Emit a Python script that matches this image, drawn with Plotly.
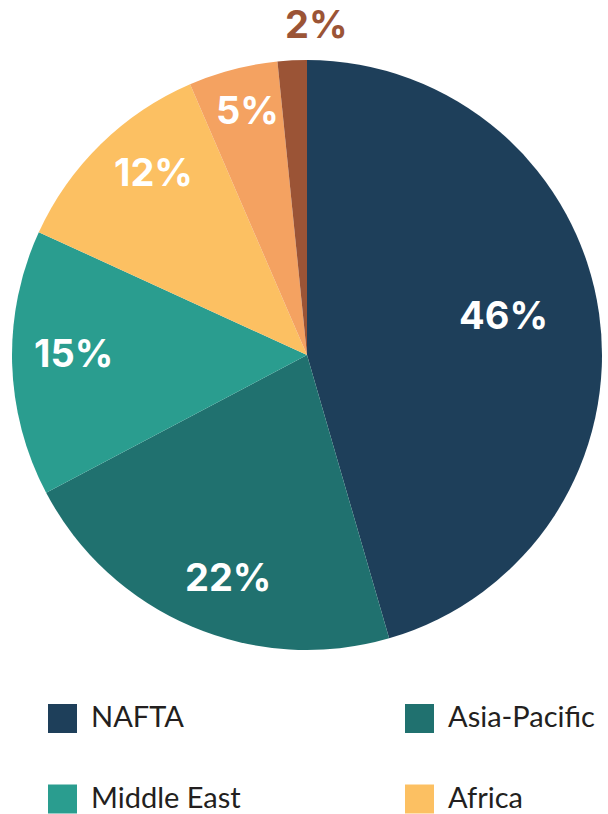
import math
import plotly.graph_objects as go

W, H = 608, 814

regions = ["NAFTA", "Asia-Pacific", "Middle East", "Africa", "Europe", "Latin America"]
shares = [45.6, 21.8, 14.6, 11.7, 4.9, 1.6]
colors = ["#1e3f5a", "#20716f", "#2a9d8f", "#fcc062", "#f4a261", "#9b5436"]

# label placement style: radius fraction and angular nudge (degrees) per slice
label_radius = [0.68, 0.80, 0.79, 0.81, 0.855, 1.124]
label_nudge = [-3.5, -3.4, 2.1, 4.3, 0.8, 4.6]
label_inside = [True, True, True, True, True, False]

legend_items = regions[:4]
legend_colors = colors[:4]

# pie geometry (pixels)
CX, CY, R = 307, 355, 295

fig = go.Figure()
fig.add_trace(go.Pie(
    labels=regions,
    values=shares,
    sort=False,
    direction="clockwise",
    rotation=0,
    marker=dict(colors=colors, line=dict(width=0)),
    textinfo="none",
    hoverinfo="label+percent",
    showlegend=False,
    domain=dict(x=[(CX - R) / W, (CX + R) / W], y=[1 - (CY + R) / H, 1 - (CY - R) / H]),
))

# percentage labels positioned around each slice's mid-angle
total = sum(shares)
cum = 0.0
for v, c, rf, nd, inside in zip(shares, colors, label_radius, label_nudge, label_inside):
    mid = (cum + v / 2) / total * 2 * math.pi + math.radians(nd)
    cum += v
    px = CX + rf * R * math.sin(mid)
    py = CY - rf * R * math.cos(mid)
    txt = f"{int(v / total * 100 + 0.5)}%"
    fig.add_annotation(
        xref="paper", yref="paper", x=px / W, y=1 - py / H,
        text=txt, showarrow=False,
        xanchor="center", yanchor="middle",
        font=dict(family="Inter", size=38, color="white" if inside else c, weight="bold"),
    )

# custom legend (2 columns)
col_x = [48, 405]
row_y = [718.5, 799]
for i, (name, c) in enumerate(zip(legend_items, legend_colors)):
    cx = col_x[i % 2]
    cy = row_y[i // 2]
    fig.add_shape(type="rect", xref="paper", yref="paper",
                  x0=cx / W, x1=(cx + 29) / W,
                  y0=1 - (cy + 14.5) / H, y1=1 - (cy - 14.5) / H,
                  fillcolor=c, line=dict(width=0))
    fig.add_annotation(xref="paper", yref="paper", x=(cx + 41) / W, y=1 - (cy - 3) / H,
                       text=name, showarrow=False, xanchor="left", yanchor="middle",
                       font=dict(family="Lato", size=29, color="#231f20"))

fig.update_layout(
    width=W, height=H,
    margin=dict(l=0, r=0, t=0, b=0),
    paper_bgcolor="white",
    plot_bgcolor="white",
)

fig.write_html("out.html", config={"displayModeBar": False},
               post_script="document.body.style.margin='0';document.body.style.overflow='hidden';")
